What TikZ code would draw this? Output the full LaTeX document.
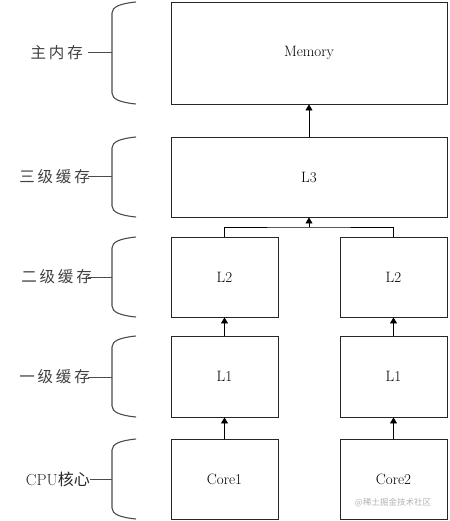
\documentclass[tikz,border=0pt]{standalone}
\usepackage{fontspec}
\newfontfamily\cjk[LetterSpace=18]{Noto Sans CJK SC}
\newfontfamily\cjkw{Noto Sans CJK SC}
\usetikzlibrary{arrows.meta}
\begin{document}
\begin{tikzpicture}[x=1pt,y=-1pt,
  box/.style={draw=black!85,line width=0.9pt,minimum width=276pt,minimum height=80pt,inner sep=0pt,font=\fontsize{15}{17}\selectfont},
  colbox/.style={box,minimum width=107pt},
  up/.style={draw=black,line width=0.8pt,-{Triangle[length=6pt,width=7pt]}},
  brc/.style={draw=black!70,line width=1.1pt},
  lbl/.style={inner sep=0pt,text=black!75,font=\cjk\fontsize{15.5}{17}\selectfont},
  tick/.style={draw=black!70,line width=1pt}]
\useasboundingbox (0,0) rectangle (449,521);
% boxes
\node[box,minimum height=102pt] (mem) at (309,53) {Memory};
\node[box] (l3) at (309,177) {L3};
\node[colbox] (l2a) at (224.5,277) {L2};
\node[colbox] (l2b) at (393.5,277) {L2};
\node[colbox,minimum height=81pt] (l1a) at (224.5,376.5) {L1};
\node[colbox,minimum height=81pt] (l1b) at (393.5,376.5) {L1};
\node[colbox] (c1) at (224.5,479) {Core1};
\node[colbox] (c2) at (393.5,479) {Core2};
% connectors
\draw[up] (l3.north) -- (mem.south);
\coordinate (j) at (309,227);
\draw[draw=black,line width=0.8pt] (l2a.north) |- (j) -| (l2b.north);
\draw[up] (j) -- (l3.south);
\draw[up] (l1a.north) -- (l2a.south);
\draw[up] (l1b.north) -- (l2b.south);
\draw[up] (c1.north) -- (l1a.south);
\draw[up] (c2.north) -- (l1b.south);
% braces
\foreach \t/\b/\m in {2/104/53, 137/217/177, 237/317/277, 336/417/377, 439/519/479}{
  \draw[brc] (136,\t) .. controls (120,\t+1.5) and (112,\t+5) .. (112,\t+11)
    -- (112,\b-11) .. controls (112,\b-5) and (120,\b-1.5) .. (136,\b);
}
% labels
\node[lbl,anchor=east] (t0) at (83,53) {主内存};
\node[lbl,anchor=east] (t1) at (90,177) {三级缓存};
\node[lbl,anchor=east] (t2) at (92,277) {二级缓存};
\node[lbl,anchor=east] (t3) at (90,377) {一级缓存};
\node[lbl,anchor=east,text=black!85,font=\fontsize{16}{18}\selectfont] (t4) at (90,479) {CPU{\cjkw 核心}};
\coordinate (s0) at (88,53); \coordinate (e0) at (112,53);
\coordinate (s1) at (88,177); \coordinate (e1) at (112,177);
\coordinate (s2) at (88,277); \coordinate (e2) at (112,277);
\coordinate (s3) at (88,377); \coordinate (e3) at (112,377);
\coordinate (s4) at (90,479); \coordinate (e4) at (112,479);
\foreach \i in {0,...,4}{\draw[tick] (s\i) -- (e\i);}
% watermark
\node[inner sep=0pt,text=black!30,font=\cjkw\fontsize{8.5}{10}\selectfont] (wm) at (393,503) {@稀土掘金技术社区};
\end{tikzpicture}
\end{document}
